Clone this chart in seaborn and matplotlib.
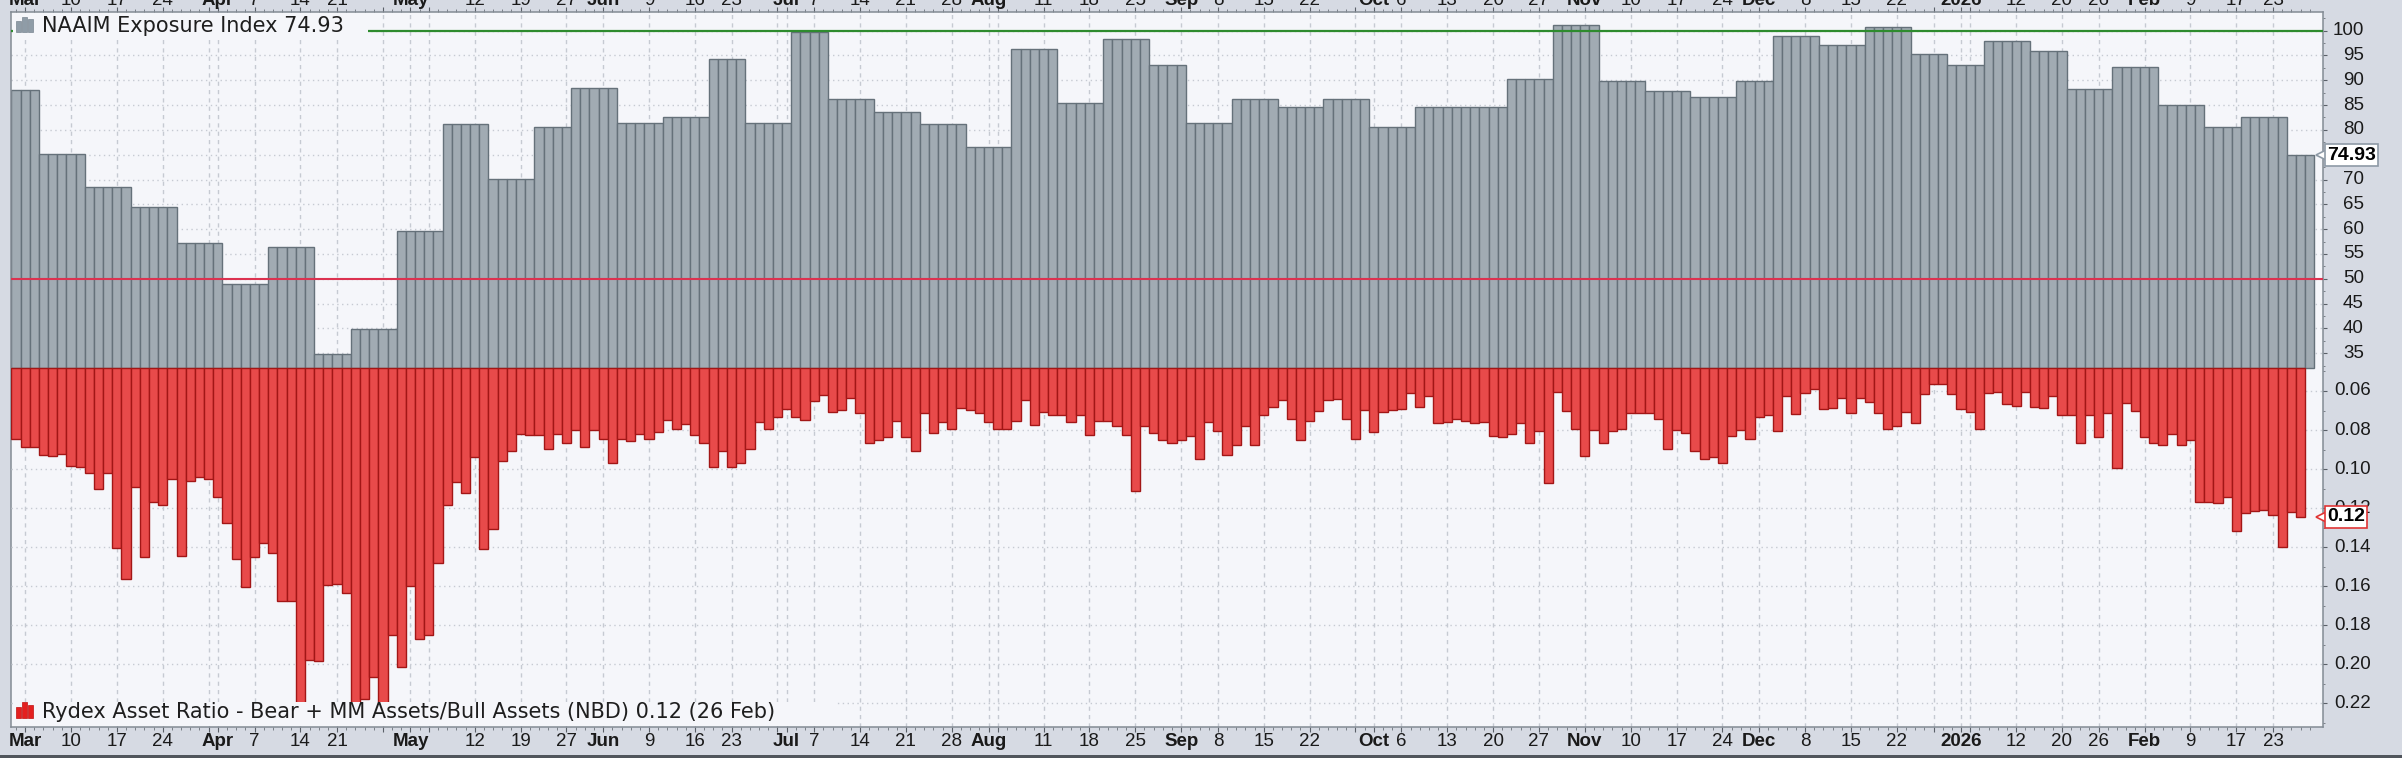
import numpy as np
import pandas as pd
import matplotlib
matplotlib.use("Agg")
import matplotlib.pyplot as plt
import matplotlib.transforms as mtransforms
from matplotlib.patches import Rectangle
from matplotlib.ticker import FixedLocator
import seaborn as sns

# ------------------------------------------------------------------ data
first_day = "2025-02-28"
last_day = "2026-02-27"
market_holidays = ["2025-04-18", "2025-05-26", "2025-06-19", "2025-07-04", "2025-09-01",
                   "2025-11-27", "2025-12-25", "2026-01-01", "2026-01-19", "2026-02-16"]

# NAAIM weekly readings (each week starts on the Wednesday release)
naaim_first_week = "2025-02-26"
naaim_values = [88.0, 75.1, 68.5, 64.5, 57.3, 48.9, 56.5, 34.8, 39.9, 59.7,
                81.1, 70.1, 80.6, 88.4, 81.4, 82.6, 94.3, 81.4, 99.8, 86.3,
                83.5, 81.1, 76.6, 96.3, 85.5, 98.3, 93.1, 81.4, 86.3, 84.7,
                86.3, 80.6, 84.7, 84.7, 90.3, 101.2, 89.8, 87.9, 86.7, 89.8,
                98.8, 97.1, 100.8, 95.2, 93.1, 97.9, 95.9, 88.3, 92.7, 85.0,
                80.6, 82.6, 74.93]

# Rydex Bear+MM / Bull asset ratio, daily (28 Feb 2025 .. 26 Feb 2026)
rydex_values = [
    0.0846, 0.0889, 0.0889, 0.0928, 0.0931, 0.0923, 0.0984, 0.0991, 0.1022, 0.1102,
    0.1022, 0.1403, 0.1563, 0.1094, 0.1452, 0.1170, 0.1184, 0.1051, 0.1444, 0.1061,
    0.1042, 0.1051, 0.1141, 0.1278, 0.1462, 0.1606, 0.1452, 0.1380, 0.1428, 0.1674,
    0.1674, 0.2220, 0.1978, 0.1983, 0.1594, 0.1589, 0.1637, 0.2220, 0.2180, 0.2063,
    0.2220, 0.1850, 0.2012, 0.1599, 0.1870, 0.1850, 0.1479, 0.1184, 0.1064, 0.1124,
    0.0940, 0.1411, 0.1309, 0.0957, 0.0906, 0.0822, 0.0825, 0.0825, 0.0899, 0.0820,
    0.0868, 0.0800, 0.0889, 0.0800, 0.0846, 0.0971, 0.0846, 0.0856, 0.0820, 0.0848,
    0.0808, 0.0749, 0.0795, 0.0771, 0.0825, 0.0868, 0.0991, 0.0906, 0.0991, 0.0967,
    0.0899, 0.0757, 0.0795, 0.0731, 0.0694, 0.0731, 0.0749, 0.0650, 0.0620, 0.0709,
    0.0697, 0.0638, 0.0711, 0.0865, 0.0851, 0.0837, 0.0752, 0.0837, 0.0906, 0.0714,
    0.0813, 0.0757, 0.0796, 0.0689, 0.0697, 0.0711, 0.0757, 0.0795, 0.0795, 0.0752,
    0.0646, 0.0774, 0.0706, 0.0723, 0.0723, 0.0757, 0.0723, 0.0825, 0.0754, 0.0754,
    0.0778, 0.0825, 0.1112, 0.0779, 0.0813, 0.0851, 0.0865, 0.0851, 0.0831, 0.0948,
    0.0757, 0.0805, 0.0928, 0.0877, 0.0779, 0.0877, 0.0723, 0.0680, 0.0646, 0.0745,
    0.0851, 0.0754, 0.0701, 0.0646, 0.0643, 0.0745, 0.0848, 0.0697, 0.0812, 0.0706,
    0.0697, 0.0692, 0.0612, 0.0684, 0.0626, 0.0766, 0.0757, 0.0745, 0.0754, 0.0766,
    0.0757, 0.0831, 0.0837, 0.0822, 0.0762, 0.0868, 0.0803, 0.1073, 0.0603, 0.0702,
    0.0796, 0.0931, 0.0800, 0.0865, 0.0803, 0.0795, 0.0714, 0.0714, 0.0714, 0.0743,
    0.0897, 0.0800, 0.0817, 0.0906, 0.0948, 0.0940, 0.0971, 0.0829, 0.0800, 0.0846,
    0.0735, 0.0723, 0.0805, 0.0624, 0.0720, 0.0612, 0.0591, 0.0694, 0.0685, 0.0638,
    0.0711, 0.0638, 0.0655, 0.0714, 0.0795, 0.0779, 0.0706, 0.0762, 0.0615, 0.0564,
    0.0564, 0.0617, 0.0694, 0.0706, 0.0795, 0.0612, 0.0603, 0.0668, 0.0675, 0.0603,
    0.0684, 0.0689, 0.0624, 0.0723, 0.0723, 0.0865, 0.0723, 0.0834, 0.0714, 0.0996,
    0.0663, 0.0701, 0.0837, 0.0865, 0.0877, 0.0820, 0.0877, 0.0851, 0.1167, 0.1167,
    0.1175, 0.1141, 0.1316, 0.1227, 0.1213, 0.1210, 0.1235, 0.1397, 0.1218, 0.1244,
]

naaim_ticks = [35, 40, 45, 50, 55, 60, 65, 70, 75, 80, 85, 90, 95, 100]
rydex_ticks = [0.06, 0.08, 0.10, 0.12, 0.14, 0.16, 0.18, 0.20, 0.22]
naaim_title = "NAAIM Exposure Index"
rydex_title = "Rydex Asset Ratio - Bear + MM Assets/Bull Assets (NBD)"
rydex_last_date = "26 Feb"

# ------------------------------------------------------------------ style
fig_bg = "#d6dae3"
plot_bg = "#f5f6fa"
gray_fill, gray_edge = "#a1abb3", "#65717a"
red_fill, red_edge = "#e84a4a", "#a21616"
grid_col = "#c6cad2"

sns.set_style("ticks")
plt.rcParams["font.family"] = ["Liberation Sans", "DejaVu Sans"]

W, H = 2402, 758
ax_l, ax_r, ax_t, ax_b = 11, 2323, 11.7, 726.7
fig = plt.figure(figsize=(W / 100, H / 100), dpi=100, facecolor=fig_bg)
ax = fig.add_axes([ax_l / W, 1 - ax_b / H, (ax_r - ax_l) / W, (ax_b - ax_t) / H])
ax.set_facecolor(plot_bg)
ax2 = ax.twinx()
ax2.patch.set_visible(False)

# ------------------------------------------------------------------ frames
days = pd.bdate_range(first_day, last_day)
days = days[~days.isin(pd.to_datetime(market_holidays))]
n_days = len(days)
pos = np.arange(n_days)
week_dates = pd.date_range(naaim_first_week, periods=len(naaim_values), freq="W-WED")
naaim_daily = pd.Series(naaim_values, index=week_dates).reindex(days, method="ffill")

gray_base = 32.1
red_base = 0.048
df_top = pd.DataFrame({"pos": pos, "h": naaim_daily.to_numpy() - gray_base})
df_bot = pd.DataFrame({"pos": pos[:len(rydex_values)],
                       "h": np.asarray(rydex_values) - red_base})

sns.barplot(data=df_top, x="pos", y="h", native_scale=True, width=1.0,
            color=gray_fill, saturation=1, edgecolor=gray_edge, linewidth=1.0,
            bottom=gray_base, errorbar=None, ax=ax, zorder=2)
sns.barplot(data=df_bot, x="pos", y="h", native_scale=True, width=1.0,
            color=red_fill, saturation=1, edgecolor=red_edge, linewidth=1.0,
            bottom=red_base, errorbar=None, ax=ax2, zorder=2)

ax.axhline(100, color="#2e8b2e", lw=1.6, zorder=3)
ax.axhline(50, color="#dc3250", lw=1.5, zorder=3)

# ------------------------------------------------------------------ axes
for a in (ax, ax2):
    a.set_xlabel("")
    a.set_ylabel("")

month_start = [i for i in range(1, n_days) if days[i].month != days[i - 1].month]
week_start = [i for i in range(1, n_days) if days[i].weekday() < days[i - 1].weekday()]
grid_pos = sorted(set(month_start) | set(week_start))
labels = {}
for i in month_start:
    d = days[i]
    labels[i] = (str(d.year) if d.month == 1 else d.strftime("%b"), True)
for i in week_start:
    if i in labels:
        continue
    crowded = any((0 < m - i <= 3) or (0 < i - m <= 2) for m in month_start)
    if not crowded:
        labels[i] = (str(days[i].day), False)

ax.xaxis.set_major_locator(FixedLocator(grid_pos))
ax.xaxis.set_minor_locator(FixedLocator(pos))
ax.set_yticks(naaim_ticks)
ax.yaxis.set_minor_locator(FixedLocator(np.arange(32.5, 103, 2.5)))
ax2.set_yticks(rydex_ticks)
ax2.yaxis.set_minor_locator(FixedLocator(np.arange(0.05, 0.232, 0.01)))

ax.tick_params(axis="x", which="major", bottom=True, top=True, direction="out",
               length=3.6, width=0.8, color="#5a6068", labelbottom=False, labeltop=False)
ax.tick_params(axis="x", which="minor", bottom=True, top=True, direction="out",
               length=2.0, width=0.7, color="#7a8088")
for a in (ax, ax2):
    a.tick_params(axis="y", which="major", left=False, right=True, direction="out",
                  length=3.0, width=0.8, color="#5a6068", labelleft=False, labelright=False)
    a.tick_params(axis="y", which="minor", left=False, right=True, direction="out",
                  length=1.6, width=0.7, color="#7a8088")

ax.set_axisbelow(True)
ax2.set_axisbelow(True)
ax.grid(axis="x", which="major", color=grid_col, lw=1.0, ls=(0, (3, 3)))
ax.grid(axis="y", which="major", color=grid_col, lw=1.0, ls=(0, (1, 2.5)))
ax2.grid(axis="y", which="major", color=grid_col, lw=1.0, ls=(0, (1, 2.5)))
ax2.grid(axis="x", visible=False)

for s in ax.spines.values():
    s.set_color("#838b94")
    s.set_linewidth(1.1)
for s in ax2.spines.values():
    s.set_visible(False)

# date labels (bottom and clipped top)
bx = mtransforms.blended_transform_factory(ax.transData, ax.transAxes)
for i, (txt, bold) in labels.items():
    kw = dict(ha="center", fontsize=13.5, color="#1a1a1a", clip_on=False,
              fontweight="bold" if bold else "normal", transform=bx)
    ax.text(i, -0.0088, txt, va="top", **kw)
    ax.text(i, 1.0088, txt, va="baseline", **kw)

# right value labels
by1 = mtransforms.blended_transform_factory(ax.transAxes, ax.transData)
by2 = mtransforms.blended_transform_factory(ax2.transAxes, ax2.transData)
for v in naaim_ticks:
    ax.text(1.01773, v, f"{v:g}", transform=by1, ha="right", va="center",
            fontsize=13.5, color="#1a1a1a", clip_on=False)
for v in rydex_ticks:
    ax2.text(1.02076, v, f"{v:.2f}", transform=by2, ha="right", va="center",
             fontsize=13.5, color="#1a1a1a", clip_on=False)

# current value tags
last_naaim = naaim_values[-1]
last_rydex = rydex_values[-1]
ax.plot([1.0], [last_naaim], marker="<", ms=10, mfc="white", mec="#8e9aa6", mew=1.2,
        transform=by1, clip_on=False, zorder=9)
ax.text(1.00173, last_naaim, f"{last_naaim:.2f}", transform=by1, ha="left", va="center",
        fontsize=14, fontweight="bold", color="black", clip_on=False, zorder=10,
        bbox=dict(boxstyle="square,pad=0.12", fc="white", ec="#8e9aa6", lw=1.2))
ax2.plot([1.0], [last_rydex], marker="<", ms=10, mfc="white", mec="#e03535", mew=1.2,
         transform=by2, clip_on=False, zorder=9)
ax2.text(1.00173, last_rydex, f"{last_rydex:.2f}", transform=by2, ha="left", va="center",
         fontsize=14, fontweight="bold", color="black", clip_on=False, zorder=10,
         bbox=dict(boxstyle="square,pad=0.12", fc="white", ec="#e03535", lw=1.2))

ax.set_ylim(-40.19, 103.79)
ax2.set_ylim(0.23199, -0.13431)
ax.set_xlim(-0.54, 251.45)


# ------------------------------------------------------------------ legends
def fig_rect(x0, y0, x1, y1, **kw):
    r = Rectangle((x0 / W, 1 - y1 / H), (x1 - x0) / W, (y1 - y0) / H,
                  transform=fig.transFigure, **kw)
    fig.add_artist(r)


fig_rect(12.5, 13.2, 368, 37, fc=plot_bg, ec="none", zorder=2)
fig_rect(12.5, 701.7, 836, 725.6, fc=plot_bg, ec="none", zorder=2)
for x0, yt in ((16, 20.7), (22, 16.7), (28, 19.0)):
    fig_rect(x0, yt, x0 + 5, 31.7, fc="#8f9ca7", ec="#7a8792", lw=0.5, zorder=2.5)
for x0, yt in ((16, 707), (22, 702), (28, 705)):
    fig_rect(x0, yt, x0 + 5, 718, fc="#e42020", ec="#c01010", lw=0.5, zorder=2.5)

fig.text(42 / W, 1 - 31.7 / H, f"{naaim_title} {last_naaim:.2f}", fontsize=15,
         family="DejaVu Sans", color="#1e1e1e", va="baseline", zorder=3)
fig.text(42 / W, 1 - 718 / H, f"{rydex_title} {last_rydex:.2f} ({rydex_last_date})",
         fontsize=15, family="DejaVu Sans", color="#1e1e1e", va="baseline", zorder=3)

# bottom frame line of the image
fig_rect(0, 755, W, H, fc="#50555c", ec="none", zorder=2)

fig.savefig("out.png", dpi=100, facecolor=fig_bg)
